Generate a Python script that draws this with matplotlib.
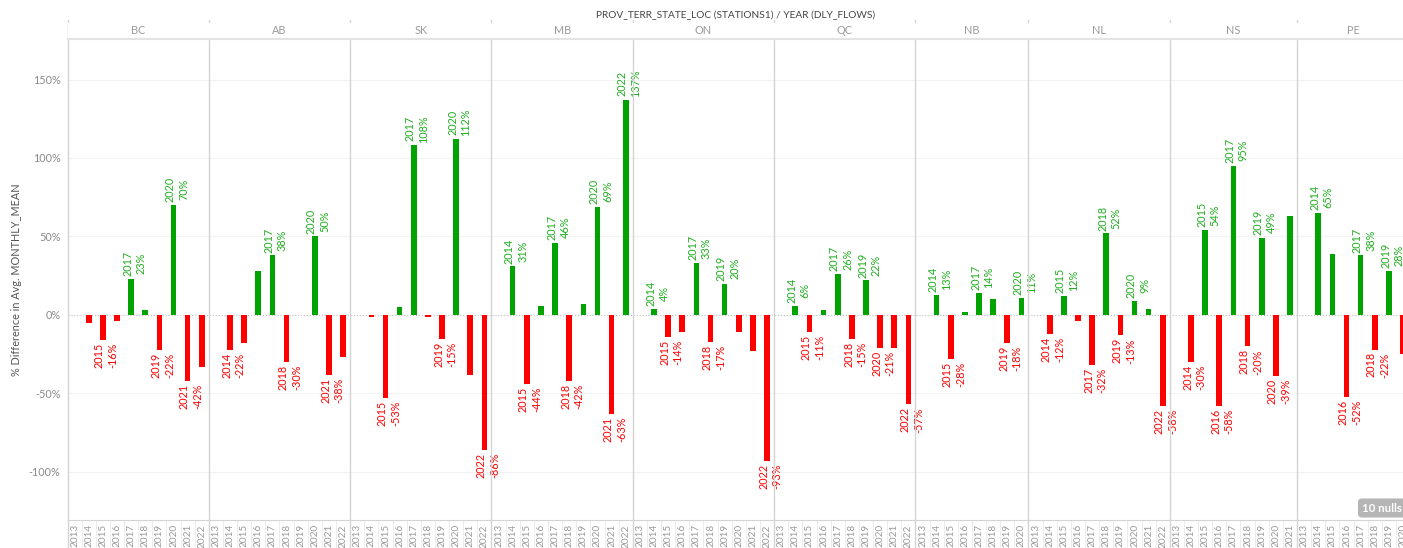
import numpy as np
import matplotlib.pyplot as plt

plt.rcParams['font.family'] = ['Lato', 'DejaVu Sans']

# data (2013 is null everywhere -> "10 nulls")
nan = np.nan
years = [2013, 2014, 2015, 2016, 2017, 2018, 2019, 2020, 2021, 2022]
provinces = ['BC', 'AB', 'SK', 'MB', 'ON', 'QC', 'NB', 'NL', 'NS', 'PE']

bc = [nan, -5, -16, -4, 23, 3, -22, 70, -42, -33]
ab = [nan, -22, -18, 28, 38, -30, 0.3, 50, -38, -27]
sk = [nan, -1.5, -53, 5, 108, -1, -15, 112, -38, -86]
mb = [nan, 31, -44, 6, 46, -42, 7, 69, -63, 137]
on = [nan, 4, -14, -11, 33, -17, 20, -11, -23, -93]
qc = [nan, 6, -11, 3, 26, -15, 22, -21, -21, -57]
nb = [nan, 13, -28, 1.6, 14, 10, -18, 11]
nl = [nan, -12, 12, -4, -32, 52, -13, 9, 4, -58]
ns = [nan, -30, 54, -58, 95, -20, 49, -39, 63]
pe = [nan, 65, 39, -52, 38, -22, 28, -25]

# years that carry a mark label
lbl_bc = [2015, 2017, 2019, 2020, 2021]
lbl_ab = [2014, 2017, 2018, 2020, 2021]
lbl_sk = [2015, 2017, 2019, 2020, 2022]
lbl_mb = [2014, 2015, 2017, 2018, 2020, 2021, 2022]
lbl_on = [2014, 2015, 2017, 2018, 2019, 2022]
lbl_qc = [2014, 2015, 2017, 2018, 2019, 2020, 2022]
lbl_nb = [2014, 2015, 2017, 2019, 2020]
lbl_nl = [2014, 2015, 2017, 2018, 2019, 2020, 2022]
lbl_ns = [2014, 2015, 2016, 2017, 2018, 2019, 2020]
lbl_pe = [2014, 2016, 2017, 2018, 2019]

series = [bc, ab, sk, mb, on, qc, nb, nl, ns, pe]
labeled = [lbl_bc, lbl_ab, lbl_sk, lbl_mb, lbl_on, lbl_qc, lbl_nb, lbl_nl, lbl_ns, lbl_pe]

GREEN = '#00a300'
GREEN_TXT = '#1fae1f'
RED = '#ff0000'
GRID = '#d4d4d4'

W, H = 1403, 548
fig = plt.figure(figsize=(W / 100, H / 100), dpi=100)
x0 = 67.5
slot = 14.15
ax = fig.add_axes([x0 / W, 28 / H, (W - x0) / W, 481 / H])
hax = fig.add_axes([x0 / W, 509 / H, (W - x0) / W, 16 / H], sharex=ax)

# bars and labels
tick_pos, tick_lab, bounds, centers = [], [], [0], []
off = 0
for prov, vals, lbls in zip(provinces, series, labeled):
    n = len(vals)
    for j in range(n):
        x = off + j + 0.5
        tick_pos.append(x)
        tick_lab.append(str(years[j]))
        v = vals[j]
        if np.isnan(v):
            continue
        c = GREEN if v >= 0 else RED
        ax.bar(x, v, width=0.4, color=c, zorder=3)
        if years[j] in lbls:
            up = v >= 0
            ax.annotate(f'{years[j]}\n{v:.0f}%', xy=(x, v),
                        xytext=(2.4, 2 if up else -2), textcoords='offset points',
                        rotation=90, ha='center', va='bottom' if up else 'top',
                        multialignment='center', linespacing=1.25,
                        fontsize=7.8, color=GREEN_TXT if up else RED,
                        annotation_clip=False)
    centers.append(off + n / 2)
    off += n
    bounds.append(off)

ax.set_xlim(0, (W - x0) / slot)
ax.set_ylim(-130.6, 175.8)

yt = [-100, -50, 0, 50, 100, 150]
ax.set_yticks(yt)
ax.set_yticklabels([f'{t}%' for t in yt], fontsize=7.8, color='#8a8a8a')
for t in yt:
    if t == 0:
        ax.axhline(0, color='#bdbdbd', lw=0.8, ls=':', zorder=2)
    else:
        ax.axhline(t, color='#f3f3f3', lw=0.8, zorder=1)

ax.set_xticks(tick_pos)
ax.set_xticklabels(tick_lab, rotation=90, fontsize=7.2, color='#999999')
ax.tick_params(length=0, pad=3)
ax.tick_params(axis='y', pad=5)
for s in ['top', 'right', 'left']:
    ax.spines[s].set_visible(False)
ax.spines['bottom'].set_color(GRID)
ax.set_ylabel('% Difference in Avg. MONTHLY_MEAN', fontsize=7.8, color='#555555', labelpad=5)

# panel separators and year dividers in the tick area
for b in bounds:
    ax.axvline(b, ymin=-0.06, ymax=1.04, color=GRID, lw=1, clip_on=False, zorder=4)
for x in range(off):
    ax.axvline(x, ymin=-0.06, ymax=0, color='#ececec', lw=0.7, clip_on=False)

# header strip
hax.set_ylim(0, 1)
hax.tick_params(left=False, bottom=False, labelleft=False, labelbottom=False)
for s in ['top', 'right', 'left']:
    hax.spines[s].set_visible(False)
hax.spines['bottom'].set_color('#e3e3e3')
hax.spines['bottom'].set_linewidth(1.5)
for prov, cx in zip(provinces, centers):
    hax.text(cx, 0.5, prov, ha='center', va='center', fontsize=7.8, color='#9a9a9a')

fig.text(736 / W, 1 - 15 / H, 'PROV_TERR_STATE_LOC (STATIONS1) / YEAR (DLY_FLOWS)',
         ha='center', va='center', fontsize=7.3, color='#444444')

fig.text(1362 / W, 1 - 508 / H, '10 nulls', ha='left', va='center', fontsize=8.3,
         color='white', fontweight='bold',
         bbox=dict(boxstyle='round,pad=0.35', fc='#b5b5b5', ec='none'))

plt.savefig('out.png', dpi=100)
